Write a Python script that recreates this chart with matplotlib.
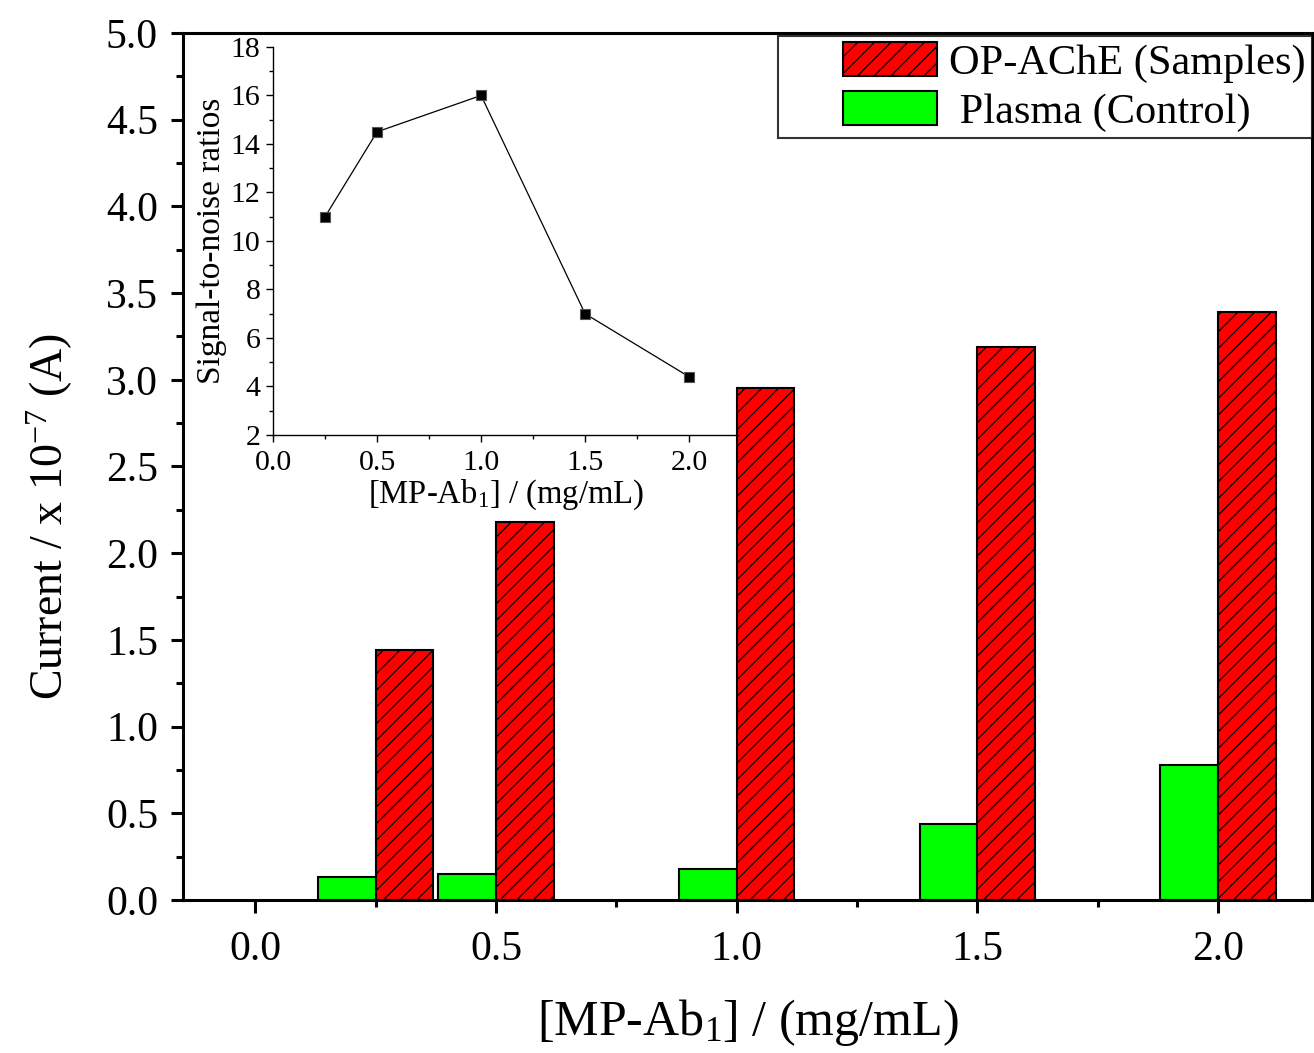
import numpy as np
import matplotlib
matplotlib.use('Agg')
import matplotlib.pyplot as plt
import matplotlib.patches as mpatches
from matplotlib.legend_handler import HandlerPatch
from matplotlib.ticker import MultipleLocator

# MP-Ab1 loading (mg/mL) and measured currents (x 1e-7 A)
conc = [0.25, 0.5, 1.0, 1.5, 2.0]
plasma_current = [0.13, 0.15, 0.18, 0.44, 0.78]
sample_current = [1.44, 2.18, 2.95, 3.19, 3.39]

# signal-to-noise ratio for each loading
snr_conc = [0.25, 0.5, 1.0, 1.5, 2.0]
snr = [11.0, 14.5, 16.0, 7.0, 4.4]

plt.rcParams['font.family'] = ['Liberation Serif', 'DejaVu Serif']
plt.rcParams['mathtext.fontset'] = 'custom'
plt.rcParams['mathtext.rm'] = 'Liberation Serif'
plt.rcParams['mathtext.it'] = 'Liberation Serif:italic'
plt.rcParams['hatch.linewidth'] = 0.9

fig = plt.figure(figsize=(13.14, 10.53), dpi=100)
ax = fig.add_axes([0.1393, 0.1453, 0.8592, 0.8234])

w = 0.12
x = np.array(conc)
plasma_bars = ax.bar(x - w / 2, plasma_current, width=w, color='#00ff00',
                     edgecolor='black', linewidth=1.5, zorder=2)
sample_bars = ax.bar(x + w / 2, sample_current, width=w, color='#ff0000',
                     edgecolor='black', linewidth=1.5, hatch='//', zorder=2)

ax.set_xlim(-0.15, 2.195)
ax.set_ylim(0, 5.0)
ax.xaxis.set_major_locator(MultipleLocator(0.5))
ax.xaxis.set_minor_locator(MultipleLocator(0.25))
ax.yaxis.set_major_locator(MultipleLocator(0.5))
ax.yaxis.set_minor_locator(MultipleLocator(0.25))
ax.xaxis.set_major_formatter('{x:.1f}')
ax.yaxis.set_major_formatter('{x:.1f}')
for s in ax.spines.values():
    s.set_linewidth(2.2)
ax.tick_params(which='major', direction='out', length=9, width=2.2, labelsize=30, pad=9)
ax.tick_params(which='minor', direction='out', length=5, width=2.2)
ax.tick_params(axis='x', which='major', pad=13)
ax.set_xlabel('[MP-Ab$_1$] / (mg/mL)', fontsize=36, labelpad=20)
ax.set_ylabel('Current / x 10$^{-7}$ (A)', fontsize=33)
ax.yaxis.set_label_coords(-0.096, 0.442)


def shifted_box(legend, orig_handle, xdescent, ydescent, width, height, fontsize):
    # legend swatch drawn in the right part of the handle area
    bw = width * 0.615
    return mpatches.Rectangle((-xdescent + width - bw, -ydescent), bw, height)


leg = ax.legend([sample_bars[0], plasma_bars[0]],
                ['OP-AChE (Samples)', ' Plasma (Control)'],
                loc='upper right', bbox_to_anchor=(1.0, 0.997), fontsize=30.5,
                frameon=True, fancybox=False, edgecolor='black', borderpad=0.15,
                borderaxespad=0, handlelength=3.6, handleheight=0.85,
                handletextpad=0.28, labelspacing=0.2,
                handler_map={mpatches.Rectangle: HandlerPatch(patch_func=shifted_box)})
leg.get_frame().set_linewidth(1.5)

# inset: signal-to-noise ratio
ins = fig.add_axes([0.2078, 0.5869, 0.354, 0.3685])
ins.set_facecolor('none')
ins.plot(snr_conc, snr, color='black', linewidth=0.9, marker='s', markersize=7.5,
         markerfacecolor='black', markeredgecolor='#555555', markeredgewidth=0.8)
ins.set_xlim(0, 2.236)
ins.set_ylim(2, 18)
ins.spines['top'].set_visible(False)
ins.spines['right'].set_visible(False)
for s in ('left', 'bottom'):
    ins.spines[s].set_linewidth(1.0)
ins.xaxis.set_major_locator(MultipleLocator(0.5))
ins.xaxis.set_minor_locator(MultipleLocator(0.25))
ins.yaxis.set_major_locator(MultipleLocator(2))
ins.yaxis.set_minor_locator(MultipleLocator(1))
ins.xaxis.set_major_formatter('{x:.1f}')
ins.tick_params(which='major', direction='out', length=5, width=1.0, labelsize=21.5, pad=4)
ins.tick_params(which='minor', direction='out', length=3, width=1.0)
ins.tick_params(axis='x', which='major', pad=6)
ins.set_xlabel('[MP-Ab$_1$] / (mg/mL)', fontsize=23.5, labelpad=1)
ins.set_ylabel('Signal-to-noise ratios', fontsize=24, labelpad=3)

fig.savefig('out.png', dpi=100)
